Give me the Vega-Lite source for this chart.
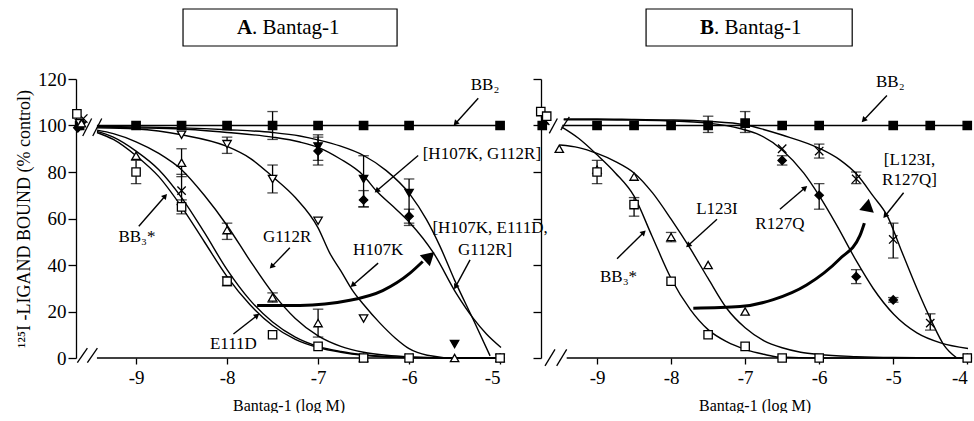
{
"$schema": "https://vega.github.io/schema/vega-lite/v6.json",
"padding": {"left": 15, "top": 8, "right": 0, "bottom": 0},
"config": {"font": "Liberation Serif", "view": {"stroke": null},
  "text": {"font": "Liberation Serif"},
  "axis": {"grid": false, "labelFont": "Liberation Serif", "titleFont": "Liberation Serif", "domainColor": "black", "tickColor": "black", "labelColor": "black", "titleColor": "black", "labelFontSize": 19, "titleFontWeight": "normal", "domainWidth": 1.3, "tickWidth": 1.3}},
"datasets": {
 "axA": [{"x": -9.43, "x2": -4.99, "y": 0}],
 "axB": [{"x": -9.41, "x2": -3.99, "y": 0}],
 "brA": [{"x": -9.645, "y": -2, "x2": -9.535, "y2": 4.2}, {"x": -9.535, "y": -2, "x2": -9.425, "y2": 4.2},
         {"x": -9.586, "y": 95.5, "x2": -9.488, "y2": 103}, {"x": -9.476, "y": 95.5, "x2": -9.377, "y2": 103}],
 "brB": [{"x": -9.703, "y": -3.4, "x2": -9.568, "y2": 3.7}, {"x": -9.545, "y": -3.4, "x2": -9.41, "y2": 3.7},
         {"x": -9.645, "y": 96.6, "x2": -9.536, "y2": 103}, {"x": -9.49, "y": 98, "x2": -9.374, "y2": 103.7}],
 "curA": [
  {"c": "BB2", "x": -9.43, "y": 100}, {"c": "BB2", "x": -5, "y": 100},
  {"c": "BB3", "x": -9.43, "y": 97}, {"c": "BB3", "x": -9.25, "y": 94}, {"c": "BB3", "x": -9, "y": 87}, {"c": "BB3", "x": -8.75, "y": 78}, {"c": "BB3", "x": -8.5, "y": 65}, {"c": "BB3", "x": -8.25, "y": 50}, {"c": "BB3", "x": -8, "y": 35}, {"c": "BB3", "x": -7.75, "y": 23}, {"c": "BB3", "x": -7.5, "y": 14}, {"c": "BB3", "x": -7.25, "y": 8}, {"c": "BB3", "x": -7, "y": 4.5}, {"c": "BB3", "x": -6.75, "y": 2.5}, {"c": "BB3", "x": -6.5, "y": 1.2}, {"c": "BB3", "x": -6, "y": 0.2}, {"c": "BB3", "x": -5.5, "y": 0}, {"c": "BB3", "x": -5, "y": 0},
  {"c": "E111D", "x": -9.43, "y": 97.5}, {"c": "E111D", "x": -9.25, "y": 95}, {"c": "E111D", "x": -9, "y": 89}, {"c": "E111D", "x": -8.75, "y": 81}, {"c": "E111D", "x": -8.5, "y": 69}, {"c": "E111D", "x": -8.25, "y": 54}, {"c": "E111D", "x": -8, "y": 38}, {"c": "E111D", "x": -7.75, "y": 25}, {"c": "E111D", "x": -7.5, "y": 15.5}, {"c": "E111D", "x": -7.25, "y": 9}, {"c": "E111D", "x": -7, "y": 5}, {"c": "E111D", "x": -6.75, "y": 2.8}, {"c": "E111D", "x": -6.5, "y": 1.4}, {"c": "E111D", "x": -6, "y": 0.2}, {"c": "E111D", "x": -5.5, "y": 0}, {"c": "E111D", "x": -5, "y": 0},
  {"c": "G112R", "x": -9.43, "y": 98}, {"c": "G112R", "x": -9.25, "y": 96.5}, {"c": "G112R", "x": -9, "y": 93}, {"c": "G112R", "x": -8.75, "y": 88}, {"c": "G112R", "x": -8.5, "y": 81}, {"c": "G112R", "x": -8.25, "y": 70}, {"c": "G112R", "x": -8, "y": 57}, {"c": "G112R", "x": -7.75, "y": 42}, {"c": "G112R", "x": -7.5, "y": 28}, {"c": "G112R", "x": -7.25, "y": 17}, {"c": "G112R", "x": -7, "y": 9.5}, {"c": "G112R", "x": -6.75, "y": 5}, {"c": "G112R", "x": -6.5, "y": 2.5}, {"c": "G112R", "x": -6.25, "y": 1.2}, {"c": "G112R", "x": -6, "y": 0.5}, {"c": "G112R", "x": -5.5, "y": 0}, {"c": "G112R", "x": -5, "y": 0},
  {"c": "H107K", "x": -9.43, "y": 99}, {"c": "H107K", "x": -9, "y": 98.5}, {"c": "H107K", "x": -8.5, "y": 96}, {"c": "H107K", "x": -8, "y": 91}, {"c": "H107K", "x": -7.75, "y": 86}, {"c": "H107K", "x": -7.5, "y": 78}, {"c": "H107K", "x": -7.25, "y": 69}, {"c": "H107K", "x": -7, "y": 56}, {"c": "H107K", "x": -6.87, "y": 45}, {"c": "H107K", "x": -6.75, "y": 37.5}, {"c": "H107K", "x": -6.62, "y": 29}, {"c": "H107K", "x": -6.5, "y": 23}, {"c": "H107K", "x": -6.32, "y": 15}, {"c": "H107K", "x": -6.15, "y": 8.5}, {"c": "H107K", "x": -6, "y": 4}, {"c": "H107K", "x": -5.8, "y": 1.2}, {"c": "H107K", "x": -5.5, "y": 0}, {"c": "H107K", "x": -5, "y": 0},
  {"c": "HG", "x": -9.43, "y": 99.5}, {"c": "HG", "x": -9, "y": 99.4}, {"c": "HG", "x": -8.5, "y": 99}, {"c": "HG", "x": -8, "y": 98.2}, {"c": "HG", "x": -7.5, "y": 97}, {"c": "HG", "x": -7.2, "y": 95.5}, {"c": "HG", "x": -6.98, "y": 93.6}, {"c": "HG", "x": -6.76, "y": 91.2}, {"c": "HG", "x": -6.5, "y": 87.1}, {"c": "HG", "x": -6.25, "y": 80.6}, {"c": "HG", "x": -5.99, "y": 70.4}, {"c": "HG", "x": -5.81, "y": 59.6}, {"c": "HG", "x": -5.66, "y": 48}, {"c": "HG", "x": -5.5, "y": 33.5}, {"c": "HG", "x": -5.29, "y": 16.1}, {"c": "HG", "x": -5.11, "y": 0.9},
  {"c": "HEG", "x": -9.43, "y": 99.3}, {"c": "HEG", "x": -9, "y": 99}, {"c": "HEG", "x": -8.5, "y": 98.5}, {"c": "HEG", "x": -8, "y": 97}, {"c": "HEG", "x": -7.5, "y": 95}, {"c": "HEG", "x": -7.2, "y": 92.9}, {"c": "HEG", "x": -6.98, "y": 90.3}, {"c": "HEG", "x": -6.76, "y": 85.7}, {"c": "HEG", "x": -6.5, "y": 78.4}, {"c": "HEG", "x": -6.36, "y": 71.9}, {"c": "HEG", "x": -6.14, "y": 63.9}, {"c": "HEG", "x": -5.99, "y": 58.1}, {"c": "HEG", "x": -5.73, "y": 45.1}, {"c": "HEG", "x": -5.48, "y": 27.7}, {"c": "HEG", "x": -5.29, "y": 16.8}, {"c": "HEG", "x": -5.15, "y": 10.3}, {"c": "HEG", "x": -4.99, "y": 4.5}
 ],
 "curB": [
  {"c": "BB2", "x": -9.47, "y": 100}, {"c": "BB2", "x": -4, "y": 100},
  {"c": "BB3", "x": -9.48, "y": 99.4}, {"c": "BB3", "x": -9.25, "y": 94.5}, {"c": "BB3", "x": -9, "y": 87.4}, {"c": "BB3", "x": -8.75, "y": 79.5}, {"c": "BB3", "x": -8.5, "y": 69.6}, {"c": "BB3", "x": -8.26, "y": 52.6}, {"c": "BB3", "x": -8, "y": 34.2}, {"c": "BB3", "x": -7.74, "y": 20.8}, {"c": "BB3", "x": -7.5, "y": 12.2}, {"c": "BB3", "x": -7.25, "y": 7}, {"c": "BB3", "x": -7, "y": 3.7}, {"c": "BB3", "x": -6.75, "y": 1.6}, {"c": "BB3", "x": -6.54, "y": 0.4}, {"c": "BB3", "x": -6, "y": 0}, {"c": "BB3", "x": -4, "y": 0},
  {"c": "L123I", "x": -9.5, "y": 91.6}, {"c": "L123I", "x": -9.25, "y": 90.5}, {"c": "L123I", "x": -9, "y": 88}, {"c": "L123I", "x": -8.75, "y": 84.5}, {"c": "L123I", "x": -8.5, "y": 79.6}, {"c": "L123I", "x": -8.25, "y": 71}, {"c": "L123I", "x": -8, "y": 59.7}, {"c": "L123I", "x": -7.74, "y": 47}, {"c": "L123I", "x": -7.5, "y": 34.2}, {"c": "L123I", "x": -7.25, "y": 21.4}, {"c": "L123I", "x": -7, "y": 13}, {"c": "L123I", "x": -6.75, "y": 7.5}, {"c": "L123I", "x": -6.5, "y": 4.4}, {"c": "L123I", "x": -6.25, "y": 2.5}, {"c": "L123I", "x": -6, "y": 1.5}, {"c": "L123I", "x": -5.5, "y": 0.6}, {"c": "L123I", "x": -5, "y": 0.2}, {"c": "L123I", "x": -4, "y": 0},
  {"c": "R127Q", "x": -9.45, "y": 102.5}, {"c": "R127Q", "x": -9, "y": 102.5}, {"c": "R127Q", "x": -8.5, "y": 102.3}, {"c": "R127Q", "x": -8, "y": 102}, {"c": "R127Q", "x": -7.5, "y": 101}, {"c": "R127Q", "x": -7.07, "y": 98.7}, {"c": "R127Q", "x": -6.8, "y": 95.9}, {"c": "R127Q", "x": -6.5, "y": 89.5}, {"c": "R127Q", "x": -6.21, "y": 79.6}, {"c": "R127Q", "x": -6, "y": 69.8}, {"c": "R127Q", "x": -5.76, "y": 56.9}, {"c": "R127Q", "x": -5.49, "y": 41.3}, {"c": "R127Q", "x": -5.27, "y": 29.9}, {"c": "R127Q", "x": -4.99, "y": 18.7}, {"c": "R127Q", "x": -4.68, "y": 10.8}, {"c": "R127Q", "x": -4.36, "y": 6.5}, {"c": "R127Q", "x": -3.99, "y": 4.1},
  {"c": "LR", "x": -9.45, "y": 102.8}, {"c": "LR", "x": -9, "y": 102.8}, {"c": "LR", "x": -8.5, "y": 102.6}, {"c": "LR", "x": -8, "y": 102.4}, {"c": "LR", "x": -7.5, "y": 101.8}, {"c": "LR", "x": -7, "y": 100.3}, {"c": "LR", "x": -6.75, "y": 98.3}, {"c": "LR", "x": -6.5, "y": 95.9}, {"c": "LR", "x": -6, "y": 90.2}, {"c": "LR", "x": -5.72, "y": 85.2}, {"c": "LR", "x": -5.49, "y": 78.9}, {"c": "LR", "x": -5.27, "y": 69.6}, {"c": "LR", "x": -5.08, "y": 61.1}, {"c": "LR", "x": -4.9, "y": 47}, {"c": "LR", "x": -4.68, "y": 29.9}, {"c": "LR", "x": -4.48, "y": 15.7}, {"c": "LR", "x": -4.32, "y": 5.8}, {"c": "LR", "x": -4.14, "y": 0}
 ],
 "ptsA": [
  {"s": "BB2", "x": -9.62, "y": 100}, {"s": "BB2", "x": -9, "y": 100}, {"s": "BB2", "x": -8.5, "y": 100}, {"s": "BB2", "x": -8, "y": 100}, {"s": "BB2", "x": -7.5, "y": 100, "lo": 94, "hi": 106}, {"s": "BB2", "x": -7, "y": 100}, {"s": "BB2", "x": -6.5, "y": 100}, {"s": "BB2", "x": -6, "y": 100}, {"s": "BB2", "x": -5, "y": 100},
  {"s": "[H107K, G112R]", "x": -9.6, "y": 100}, {"s": "[H107K, G112R]", "x": -7, "y": 91, "lo": 85, "hi": 96}, {"s": "[H107K, G112R]", "x": -6.5, "y": 77, "lo": 65, "hi": 87}, {"s": "[H107K, G112R]", "x": -6, "y": 71, "lo": 57, "hi": 77}, {"s": "[H107K, G112R]", "x": -5.5, "y": 6}, {"s": "[H107K, G112R]", "x": -5, "y": 0},
  {"s": "[H107K, E111D, G112R]", "x": -9.64, "y": 99}, {"s": "[H107K, E111D, G112R]", "x": -7, "y": 89, "lo": 83, "hi": 95}, {"s": "[H107K, E111D, G112R]", "x": -6.5, "y": 68, "lo": 65, "hi": 72}, {"s": "[H107K, E111D, G112R]", "x": -6, "y": 61, "lo": 58, "hi": 64}, {"s": "[H107K, E111D, G112R]", "x": -5, "y": 0},
  {"s": "H107K", "x": -9.62, "y": 101}, {"s": "H107K", "x": -8.5, "y": 96}, {"s": "H107K", "x": -8, "y": 92, "lo": 88, "hi": 95}, {"s": "H107K", "x": -7.5, "y": 77, "lo": 71, "hi": 83}, {"s": "H107K", "x": -7, "y": 59}, {"s": "H107K", "x": -6.5, "y": 17},
  {"s": "G112R", "x": -9.6, "y": 101}, {"s": "G112R", "x": -9, "y": 87}, {"s": "G112R", "x": -8.5, "y": 84, "lo": 78, "hi": 90}, {"s": "G112R", "x": -8, "y": 55, "lo": 51, "hi": 58}, {"s": "G112R", "x": -7.5, "y": 26, "lo": 24, "hi": 28}, {"s": "G112R", "x": -7, "y": 15, "lo": 9, "hi": 21}, {"s": "G112R", "x": -6.5, "y": 0}, {"s": "G112R", "x": -5.5, "y": 0}, {"s": "G112R", "x": -5, "y": 0},
  {"s": "E111D", "x": -9.58, "y": 103}, {"s": "E111D", "x": -8.5, "y": 72, "lo": 66, "hi": 79}, {"s": "E111D", "x": -8, "y": 33}, {"s": "E111D", "x": -6.5, "y": 0}, {"s": "E111D", "x": -6, "y": 0}, {"s": "E111D", "x": -5, "y": 0},
  {"s": "BB3*", "x": -9.65, "y": 105}, {"s": "BB3*", "x": -9, "y": 80, "lo": 75, "hi": 85}, {"s": "BB3*", "x": -8.5, "y": 65, "lo": 62, "hi": 68}, {"s": "BB3*", "x": -8, "y": 33, "lo": 31, "hi": 35}, {"s": "BB3*", "x": -7.5, "y": 10}, {"s": "BB3*", "x": -7, "y": 5}, {"s": "BB3*", "x": -6.5, "y": 0}, {"s": "BB3*", "x": -6, "y": 0}, {"s": "BB3*", "x": -5, "y": 0}
 ],
 "ptsB": [
  {"s": "BB2", "x": -9.74, "y": 100}, {"s": "BB2", "x": -9, "y": 100}, {"s": "BB2", "x": -8.5, "y": 100}, {"s": "BB2", "x": -8, "y": 100}, {"s": "BB2", "x": -7.5, "y": 100, "lo": 97, "hi": 104}, {"s": "BB2", "x": -7, "y": 101, "lo": 97, "hi": 106}, {"s": "BB2", "x": -6.5, "y": 100}, {"s": "BB2", "x": -6, "y": 100}, {"s": "BB2", "x": -5, "y": 100}, {"s": "BB2", "x": -4.5, "y": 100}, {"s": "BB2", "x": -4, "y": 100},
  {"s": "R127Q", "x": -9.72, "y": 101}, {"s": "R127Q", "x": -6.5, "y": 85, "lo": 83, "hi": 87}, {"s": "R127Q", "x": -6, "y": 70, "lo": 64, "hi": 75}, {"s": "R127Q", "x": -5.5, "y": 35, "lo": 32, "hi": 38}, {"s": "R127Q", "x": -5, "y": 25, "lo": 24, "hi": 26}, {"s": "R127Q", "x": -4, "y": 0},
  {"s": "[L123I, R127Q]", "x": -9.7, "y": 102}, {"s": "[L123I, R127Q]", "x": -6.5, "y": 90}, {"s": "[L123I, R127Q]", "x": -6, "y": 89, "lo": 86, "hi": 92}, {"s": "[L123I, R127Q]", "x": -5.5, "y": 77, "lo": 75, "hi": 80}, {"s": "[L123I, R127Q]", "x": -5, "y": 51, "lo": 43, "hi": 58}, {"s": "[L123I, R127Q]", "x": -4.5, "y": 15, "lo": 12, "hi": 19}, {"s": "[L123I, R127Q]", "x": -4, "y": 0},
  {"s": "L123I", "x": -9.51, "y": 90}, {"s": "L123I", "x": -9, "y": 81}, {"s": "L123I", "x": -8.5, "y": 78}, {"s": "L123I", "x": -8, "y": 52, "lo": 50, "hi": 54}, {"s": "L123I", "x": -7.5, "y": 40}, {"s": "L123I", "x": -7, "y": 20},
  {"s": "BB3*", "x": -9.76, "y": 106}, {"s": "BB3*", "x": -9.68, "y": 104}, {"s": "BB3*", "x": -9, "y": 80, "lo": 75, "hi": 85}, {"s": "BB3*", "x": -8.5, "y": 66, "lo": 61, "hi": 69}, {"s": "BB3*", "x": -8, "y": 33}, {"s": "BB3*", "x": -7.5, "y": 10}, {"s": "BB3*", "x": -7, "y": 5}, {"s": "BB3*", "x": -6.5, "y": 0}, {"s": "BB3*", "x": -6, "y": 0}, {"s": "BB3*", "x": -4, "y": 0}
 ],
 "arrA": [{"x": -5.24, "y": 111.7, "x2": -5.49, "y2": 100.9}, {"x": -5.9, "y": 87.1, "x2": -6.355, "y2": 71.9}, {"x": -5.33, "y": 42.2, "x2": -5.49, "y2": 30.6}, {"x": -6.34, "y": 40.8, "x2": -6.62, "y2": 31.3}, {"x": -7.31, "y": 47.4, "x2": -7.51, "y2": 39.3}, {"x": -8.97, "y": 56.7, "x2": -8.68, "y2": 69.7}, {"x": -7.93, "y": 10.3, "x2": -7.67, "y2": 18.3}],
 "arrB": [{"x": -5.085, "y": 112.9, "x2": -5.4, "y2": 102.3}, {"x": -4.86, "y": 71.1, "x2": -5.11, "y2": 61.1}, {"x": -6.53, "y": 64, "x2": -6.19, "y2": 73.2}, {"x": -7.38, "y": 59.7, "x2": -7.77, "y2": 48.4}, {"x": -8.73, "y": 42.7, "x2": -8.37, "y2": 54}],
 "bigA": [{"x": -7.67, "y": 22.6}, {"x": -7.2, "y": 22.6}, {"x": -6.65, "y": 24.8}, {"x": -6.29, "y": 29}, {"x": -5.99, "y": 36.5}, {"x": -5.85, "y": 41.5}],
 "bigB": [{"x": -7.7, "y": 21.4}, {"x": -7.07, "y": 22.1}, {"x": -6.62, "y": 25.1}, {"x": -6.17, "y": 31.4}, {"x": -5.72, "y": 42.7}, {"x": -5.45, "y": 52.6}, {"x": -5.39, "y": 58}],
 "headA": [{"x": -5.92, "y": 38.5, "x2": -5.775, "y2": 43.7}],
 "headB": [{"x": -5.4, "y": 56, "x2": -5.345, "y2": 65.8}],
 "labA": [{"t": "BB₂", "x": -5.165, "y": 117.5}, {"t": "[H107K, G112R]", "x": -5.2, "y": 87.8}, {"t": "[H107K, E111D,", "x": -5.11, "y": 56}, {"t": "G112R]", "x": -5.165, "y": 46.5}, {"t": "H107K", "x": -6.34, "y": 46.5}, {"t": "G112R", "x": -7.34, "y": 52.2}, {"t": "BB₃*", "x": -8.99, "y": 52.2}, {"t": "E111D", "x": -7.93, "y": 6.1}],
 "labB": [{"t": "BB₂", "x": -5.04, "y": 118.6}, {"t": "[L123I,", "x": -4.78, "y": 85.2}, {"t": "R127Q]", "x": -4.78, "y": 76.7}, {"t": "R127Q", "x": -6.53, "y": 57.6}, {"t": "L123I", "x": -7.38, "y": 64}, {"t": "BB₃*", "x": -8.71, "y": 34.9}],
 "boxA": [{"x": -8.484, "x2": -6.132, "y": 150.1, "y2": 134.2, "xt": -7.725, "yt": 141.9, "a": "A", "b": ". Bantag-1"}],
 "boxB": [{"x": -8.338, "x2": -5.554, "y": 150.1, "y2": 134.2, "xt": -7.419, "yt": 141.9, "a": "B", "b": ". Bantag-1"}]
},
"spacing": 40,
"bounds": "flush",
"hconcat": [
 {"width": 425, "height": 279,
  "layer": [
   {"data": {"name": "axA"}, "mark": {"type": "rule", "color": "black", "strokeWidth": 1.3},
    "encoding": {
     "x": {"field": "x", "type": "quantitative", "scale": {"domain": [-9.66, -4.99], "nice": false, "zero": false},
           "axis": {"values": [-9, -8, -7, -6, -5], "labelExpr": "'' + datum.value", "domain": false, "tickSize": 6, "labelPadding": 4, "title": "Bantag-1 (log M)", "titleFontSize": 16, "titlePadding": 10}},
     "x2": {"field": "x2"},
     "y": {"field": "y", "type": "quantitative", "scale": {"domain": [0, 120], "nice": false, "zero": false},
           "axis": {"values": [0, 20, 40, 60, 80, 100, 120], "tickSize": 8, "labelPadding": 2, "title": "¹²⁵I -LIGAND BOUND (% control)", "titleFontSize": 18, "titlePadding": 4}}}},
   {"data": {"name": "brA"}, "mark": {"type": "rule", "color": "black", "strokeWidth": 1.3, "clip": false},
    "encoding": {"x": {"field": "x", "type": "quantitative"}, "x2": {"field": "x2"}, "y": {"field": "y", "type": "quantitative"}, "y2": {"field": "y2"}}},
   {"data": {"name": "curA"}, "mark": {"type": "line", "color": "black", "strokeWidth": 1.4, "interpolate": "monotone"},
    "encoding": {"x": {"field": "x", "type": "quantitative"}, "y": {"field": "y", "type": "quantitative"}, "detail": {"field": "c"}}},
   {"data": {"name": "bigA"}, "mark": {"type": "line", "color": "black", "strokeWidth": 3, "interpolate": "monotone"},
    "encoding": {"x": {"field": "x", "type": "quantitative"}, "y": {"field": "y", "type": "quantitative"}}},
   {"data": {"name": "ptsA"}, "transform": [{"filter": "isValid(datum.lo)"}], "mark": {"type": "rule", "color": "black", "strokeWidth": 1.3},
    "encoding": {"x": {"field": "x", "type": "quantitative"}, "y": {"field": "lo", "type": "quantitative"}, "y2": {"field": "hi"}}},
   {"data": {"name": "ptsA"}, "transform": [{"filter": "isValid(datum.lo)"}], "mark": {"type": "point", "shape": "stroke", "size": 110, "stroke": "black", "strokeWidth": 1.3, "filled": false},
    "encoding": {"x": {"field": "x", "type": "quantitative"}, "y": {"field": "lo", "type": "quantitative"}}},
   {"data": {"name": "ptsA"}, "transform": [{"filter": "isValid(datum.hi)"}], "mark": {"type": "point", "shape": "stroke", "size": 110, "stroke": "black", "strokeWidth": 1.3, "filled": false},
    "encoding": {"x": {"field": "x", "type": "quantitative"}, "y": {"field": "hi", "type": "quantitative"}}},
   {"data": {"name": "ptsA"}, "mark": {"type": "point", "filled": true, "stroke": "black", "strokeWidth": 1.3, "size": 70, "opacity": 1, "clip": false},
    "encoding": {"x": {"field": "x", "type": "quantitative"}, "y": {"field": "y", "type": "quantitative"},
     "shape": {"field": "s", "type": "nominal", "legend": null, "scale": {"domain": ["BB2", "BB3*", "E111D", "G112R", "H107K", "[H107K, G112R]", "[H107K, E111D, G112R]", "L123I", "R127Q", "[L123I, R127Q]"], "range": ["square", "square", "M-1,-1L1,1M-1,1L1,-1", "triangle-up", "triangle-down", "triangle-down", "diamond", "triangle-up", "diamond", "M-1,-1L1,1M-1,1L1,-1"]}},
     "fill": {"field": "s", "type": "nominal", "legend": null, "scale": {"domain": ["BB2", "BB3*", "E111D", "G112R", "H107K", "[H107K, G112R]", "[H107K, E111D, G112R]", "L123I", "R127Q", "[L123I, R127Q]"], "range": ["black", "white", "white", "white", "white", "black", "black", "white", "black", "white"]}}}},
   {"data": {"name": "arrA"}, "mark": {"type": "rule", "color": "black", "strokeWidth": 1.4},
    "encoding": {"x": {"field": "x", "type": "quantitative"}, "x2": {"field": "x2"}, "y": {"field": "y", "type": "quantitative"}, "y2": {"field": "y2"}}},
   {"data": {"name": "arrA"}, "transform": [{"calculate": "atan2((datum.x2 - datum.x) * 91, (datum.y2 - datum.y) * 2.325) * 180 / PI", "as": "ang"}],
    "mark": {"type": "point", "shape": "triangle-up", "filled": true, "color": "black", "size": 40, "opacity": 1},
    "encoding": {"x": {"field": "x2", "type": "quantitative"}, "y": {"field": "y2", "type": "quantitative"}, "angle": {"field": "ang", "type": "quantitative", "scale": null}}},
   {"data": {"name": "headA"}, "transform": [{"calculate": "atan2((datum.x2 - datum.x) * 91, (datum.y2 - datum.y) * 2.325) * 180 / PI", "as": "ang"}],
    "mark": {"type": "point", "shape": "triangle-up", "filled": true, "color": "black", "size": 220, "opacity": 1},
    "encoding": {"x": {"field": "x2", "type": "quantitative"}, "y": {"field": "y2", "type": "quantitative"}, "angle": {"field": "ang", "type": "quantitative", "scale": null}}},
   {"data": {"name": "labA"}, "mark": {"type": "text", "font": "Liberation Serif", "fontSize": 17, "color": "black", "align": "center", "baseline": "middle", "clip": false},
    "encoding": {"x": {"field": "x", "type": "quantitative"}, "y": {"field": "y", "type": "quantitative"}, "text": {"field": "t"}}},
   {"data": {"name": "boxA"}, "mark": {"type": "rect", "fill": "white", "stroke": "black", "strokeWidth": 1.2, "clip": false},
    "encoding": {"x": {"field": "x", "type": "quantitative"}, "x2": {"field": "x2"}, "y": {"field": "y", "type": "quantitative"}, "y2": {"field": "y2"}}},
   {"data": {"name": "boxA"}, "mark": {"type": "text", "font": "Liberation Serif", "fontSize": 21, "fontWeight": "bold", "color": "black", "align": "right", "baseline": "middle", "clip": false},
    "encoding": {"x": {"field": "xt", "type": "quantitative"}, "y": {"field": "yt", "type": "quantitative"}, "text": {"field": "a"}}},
   {"data": {"name": "boxA"}, "mark": {"type": "text", "font": "Liberation Serif", "fontSize": 21, "color": "black", "align": "left", "baseline": "middle", "clip": false},
    "encoding": {"x": {"field": "xt", "type": "quantitative"}, "y": {"field": "yt", "type": "quantitative"}, "text": {"field": "b"}}}
  ]},
 {"width": 427, "height": 279,
  "layer": [
   {"data": {"name": "axB"}, "mark": {"type": "rule", "color": "black", "strokeWidth": 1.3},
    "encoding": {
     "x": {"field": "x", "type": "quantitative", "scale": {"domain": [-9.757, -3.99], "nice": false, "zero": false},
           "axis": {"values": [-9, -8, -7, -6, -5, -4], "labelExpr": "'' + datum.value", "domain": false, "tickSize": 6, "labelPadding": 4, "title": "Bantag-1 (log M)", "titleFontSize": 16, "titlePadding": 10}},
     "x2": {"field": "x2"},
     "y": {"field": "y", "type": "quantitative", "scale": {"domain": [0, 120], "nice": false, "zero": false},
           "axis": {"values": [0, 20, 40, 60, 80, 100, 120], "tickSize": 8, "labels": false, "title": null}}}},
   {"data": {"name": "brB"}, "mark": {"type": "rule", "color": "black", "strokeWidth": 1.3, "clip": false},
    "encoding": {"x": {"field": "x", "type": "quantitative"}, "x2": {"field": "x2"}, "y": {"field": "y", "type": "quantitative"}, "y2": {"field": "y2"}}},
   {"data": {"name": "curB"}, "mark": {"type": "line", "color": "black", "strokeWidth": 1.4, "interpolate": "monotone"},
    "encoding": {"x": {"field": "x", "type": "quantitative"}, "y": {"field": "y", "type": "quantitative"}, "detail": {"field": "c"}}},
   {"data": {"name": "bigB"}, "mark": {"type": "line", "color": "black", "strokeWidth": 3, "interpolate": "monotone"},
    "encoding": {"x": {"field": "x", "type": "quantitative"}, "y": {"field": "y", "type": "quantitative"}}},
   {"data": {"name": "ptsB"}, "transform": [{"filter": "isValid(datum.lo)"}], "mark": {"type": "rule", "color": "black", "strokeWidth": 1.3},
    "encoding": {"x": {"field": "x", "type": "quantitative"}, "y": {"field": "lo", "type": "quantitative"}, "y2": {"field": "hi"}}},
   {"data": {"name": "ptsB"}, "transform": [{"filter": "isValid(datum.lo)"}], "mark": {"type": "point", "shape": "stroke", "size": 110, "stroke": "black", "strokeWidth": 1.3, "filled": false},
    "encoding": {"x": {"field": "x", "type": "quantitative"}, "y": {"field": "lo", "type": "quantitative"}}},
   {"data": {"name": "ptsB"}, "transform": [{"filter": "isValid(datum.hi)"}], "mark": {"type": "point", "shape": "stroke", "size": 110, "stroke": "black", "strokeWidth": 1.3, "filled": false},
    "encoding": {"x": {"field": "x", "type": "quantitative"}, "y": {"field": "hi", "type": "quantitative"}}},
   {"data": {"name": "ptsB"}, "mark": {"type": "point", "filled": true, "stroke": "black", "strokeWidth": 1.3, "size": 70, "opacity": 1, "clip": false},
    "encoding": {"x": {"field": "x", "type": "quantitative"}, "y": {"field": "y", "type": "quantitative"},
     "shape": {"field": "s", "type": "nominal", "legend": null, "scale": {"domain": ["BB2", "BB3*", "E111D", "G112R", "H107K", "[H107K, G112R]", "[H107K, E111D, G112R]", "L123I", "R127Q", "[L123I, R127Q]"], "range": ["square", "square", "M-1,-1L1,1M-1,1L1,-1", "triangle-up", "triangle-down", "triangle-down", "diamond", "triangle-up", "diamond", "M-1,-1L1,1M-1,1L1,-1"]}},
     "fill": {"field": "s", "type": "nominal", "legend": null, "scale": {"domain": ["BB2", "BB3*", "E111D", "G112R", "H107K", "[H107K, G112R]", "[H107K, E111D, G112R]", "L123I", "R127Q", "[L123I, R127Q]"], "range": ["black", "white", "white", "white", "white", "black", "black", "white", "black", "white"]}}}},
   {"data": {"name": "arrB"}, "mark": {"type": "rule", "color": "black", "strokeWidth": 1.4},
    "encoding": {"x": {"field": "x", "type": "quantitative"}, "x2": {"field": "x2"}, "y": {"field": "y", "type": "quantitative"}, "y2": {"field": "y2"}}},
   {"data": {"name": "arrB"}, "transform": [{"calculate": "atan2((datum.x2 - datum.x) * 74, (datum.y2 - datum.y) * 2.325) * 180 / PI", "as": "ang"}],
    "mark": {"type": "point", "shape": "triangle-up", "filled": true, "color": "black", "size": 40, "opacity": 1},
    "encoding": {"x": {"field": "x2", "type": "quantitative"}, "y": {"field": "y2", "type": "quantitative"}, "angle": {"field": "ang", "type": "quantitative", "scale": null}}},
   {"data": {"name": "headB"}, "transform": [{"calculate": "atan2((datum.x2 - datum.x) * 74, (datum.y2 - datum.y) * 2.325) * 180 / PI", "as": "ang"}],
    "mark": {"type": "point", "shape": "triangle-up", "filled": true, "color": "black", "size": 220, "opacity": 1},
    "encoding": {"x": {"field": "x2", "type": "quantitative"}, "y": {"field": "y2", "type": "quantitative"}, "angle": {"field": "ang", "type": "quantitative", "scale": null}}},
   {"data": {"name": "labB"}, "mark": {"type": "text", "font": "Liberation Serif", "fontSize": 17, "color": "black", "align": "center", "baseline": "middle", "clip": false},
    "encoding": {"x": {"field": "x", "type": "quantitative"}, "y": {"field": "y", "type": "quantitative"}, "text": {"field": "t"}}},
   {"data": {"name": "boxB"}, "mark": {"type": "rect", "fill": "white", "stroke": "black", "strokeWidth": 1.2, "clip": false},
    "encoding": {"x": {"field": "x", "type": "quantitative"}, "x2": {"field": "x2"}, "y": {"field": "y", "type": "quantitative"}, "y2": {"field": "y2"}}},
   {"data": {"name": "boxB"}, "mark": {"type": "text", "font": "Liberation Serif", "fontSize": 21, "fontWeight": "bold", "color": "black", "align": "right", "baseline": "middle", "clip": false},
    "encoding": {"x": {"field": "xt", "type": "quantitative"}, "y": {"field": "yt", "type": "quantitative"}, "text": {"field": "a"}}},
   {"data": {"name": "boxB"}, "mark": {"type": "text", "font": "Liberation Serif", "fontSize": 21, "color": "black", "align": "left", "baseline": "middle", "clip": false},
    "encoding": {"x": {"field": "xt", "type": "quantitative"}, "y": {"field": "yt", "type": "quantitative"}, "text": {"field": "b"}}}
  ]}
]
}
